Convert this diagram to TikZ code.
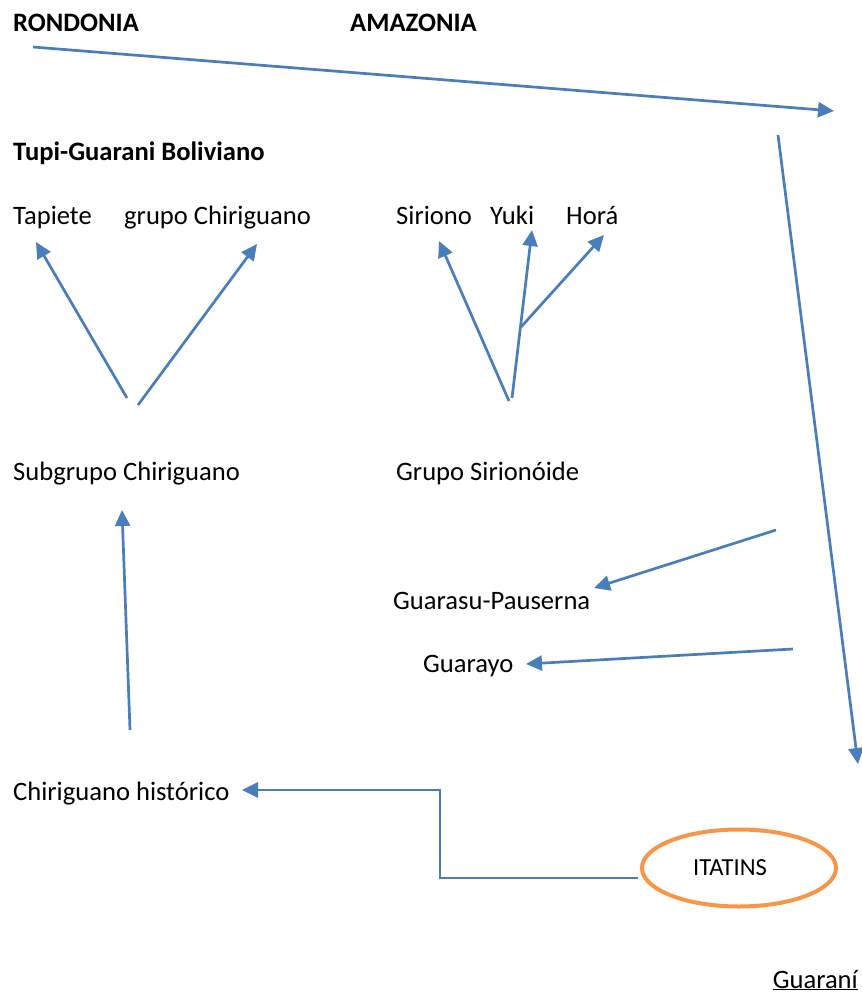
\documentclass[tikz,border=0pt]{standalone}
\usepackage{fontspec}
\setmainfont{Carlito}
\usetikzlibrary{arrows.meta,shapes.geometric}
\definecolor{lineblue}{HTML}{4A7EBB}
\definecolor{ovalorange}{HTML}{F79646}
\tikzset{
  lbl/.style={anchor=base west, inner sep=0pt, font=\fontsize{26.6}{30}\selectfont},
  blbl/.style={lbl, font=\fontsize{26.6}{30}\selectfont\bfseries},
  conn/.style={draw=lineblue, line width=2.7pt, -{Triangle[length=16pt,width=15pt]}},
}
\begin{document}
\begin{tikzpicture}[x=1pt,y=-1pt]
\useasboundingbox (0,0) rectangle (862,997);
% labels
\node[blbl] (rond) at (13,31) {RONDONIA};
\node[blbl] (amaz) at (350,31) {AMAZONIA};
\node[blbl] (tupi) at (13,160) {Tupi-Guarani Boliviano};
\node[lbl] (tap) at (13,224) {Tapiete};
\node[lbl] (gch) at (124,224) {grupo Chiriguano};
\node[lbl] (sir) at (396,224) {Siriono};
\node[lbl] (yuk) at (490,224) {Yuki};
\node[lbl] (hor) at (566,224) {Horá};
\node[lbl] (sub) at (13,480) {Subgrupo Chiriguano};
\node[lbl] (gsi) at (396,480) {Grupo Sirionóide};
\node[lbl] (gpa) at (393,609) {Guarasu-Pauserna};
\node[lbl] (gya) at (423,672) {Guarayo};
\node[lbl] (chh) at (13,800) {Chiriguano histórico};
\node[draw=ovalorange, line width=4pt, ellipse, minimum width=194pt, minimum height=77pt] (ita) at (739,868) {};
\node[anchor=base, inner sep=0pt, font=\fontsize{24.5}{28}\selectfont] (itat) at (730,875) {ITATINS};
\node[lbl, anchor=base east] (gua) at (858,988) {\underline{Guaraní}};
% coordinates
\coordinate (a1s) at (33,47);   \coordinate (a1e) at (834,111);
\coordinate (a2s) at (778,135); \coordinate (a2e) at (858,764);
\coordinate (a3s) at (127,398); \coordinate (a3e) at (36,242);
\coordinate (a4s) at (138,405); \coordinate (a4e) at (257,244);
\coordinate (a5s) at (509,401); \coordinate (a5e) at (439,241);
\coordinate (a6s) at (512,398); \coordinate (a6e) at (532,230);
\coordinate (a7s) at (521,327); \coordinate (a7e) at (604,235);
\coordinate (a8s) at (776,530); \coordinate (a8e) at (594,588);
\coordinate (a9s) at (793,649); \coordinate (a9e) at (526,664);
\coordinate (a10s) at (130,730); \coordinate (a10e) at (122,510);
\coordinate (a11s) at (638,878); \coordinate (k1) at (440,878); \coordinate (k2) at (440,790); \coordinate (a11e) at (242,790);
% connectors
\draw[conn] (a1s) -- (a1e);
\draw[conn] (a2s) -- (a2e);
\draw[conn] (a3s) -- (a3e);
\draw[conn] (a4s) -- (a4e);
\draw[conn] (a5s) -- (a5e);
\draw[conn] (a6s) -- (a6e);
\draw[conn] (a7s) -- (a7e);
\draw[conn] (a8s) -- (a8e);
\draw[conn] (a9s) -- (a9e);
\draw[conn] (a10s) -- (a10e);
\draw[conn] (a11s) -- (k1) -- (k2) -- (a11e);
\end{tikzpicture}
\end{document}
